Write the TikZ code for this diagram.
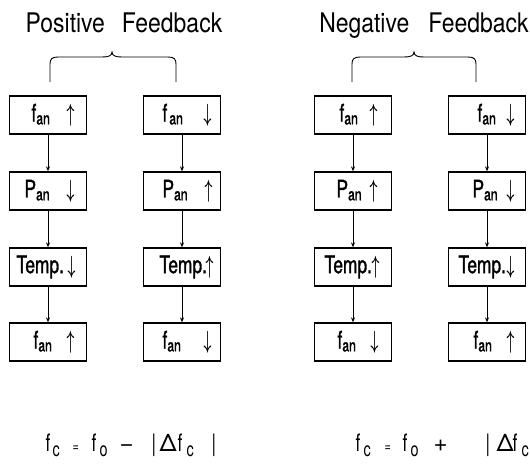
\documentclass[tikz,border=0pt]{standalone}
\usepackage{fontspec}
\usepackage{graphicx}
\setmainfont{TeX Gyre Heros}
\newfontfamily\boxfont[FakeStretch=0.72,FakeBold=1.2]{TeX Gyre Heros}
\newfontfamily\formfont[FakeStretch=0.72]{TeX Gyre Heros}
\newfontfamily\titlefont[FakeStretch=0.85]{TeX Gyre Heros}
\usetikzlibrary{arrows.meta}
\newcommand{\subtxt}[1]{\raisebox{-3pt}{\fontsize{17}{17}\selectfont #1}}
\newcommand{\fsub}[1]{\raisebox{-5pt}{\fontsize{20}{20}\selectfont #1}}
\newcommand{\arup}{\scalebox{0.55}[1]{\boldmath$\uparrow$}}
\newcommand{\ardown}{\scalebox{0.55}[1]{\boldmath$\downarrow$}}
% box content: #1 text offset, #2 text, #3 arrow centre offset, #4 arrow
\newcommand{\bx}[4]{\makebox[77pt][l]{\rlap{\hspace{#1pt}#2}\hspace{#3pt}\makebox[0pt]{#4}}}
% placed piece inside a formula
\newcommand{\pc}[2]{\rlap{\hspace{#1pt}#2}}
\newcommand{\fbbrace}[3]{%
  \draw[bracel] (#1,82) -- (#1,64) .. controls (#1,59) and (#1+2,57) .. (#1+8,57)
    -- (#2-10,57) .. controls (#2-4,57) and (#2,56) .. (#2,52)
    .. controls (#2,56) and (#2+4,57) .. (#2+10,57)
    -- (#3-8,57) .. controls (#3-2,57) and (#3,59) .. (#3,64) -- (#3,82);}
\tikzset{
  fb/.style={draw, line width=1.3pt, minimum width=77pt, minimum height=38pt,
    inner sep=0pt, font=\boxfont\fontsize{24}{24}\selectfont},
  link/.style={line width=0.9pt, -{Stealth[length=5pt,width=4pt]}},
  bracel/.style={line width=0.9pt},
  ttl/.style={anchor=base, inner sep=0pt, font=\titlefont\fontsize{27}{27}\selectfont},
  frm/.style={anchor=base west, inner sep=0pt, font=\formfont\fontsize{24}{24}\selectfont}
}
\begin{document}
\begin{tikzpicture}[x=1pt,y=-1pt]
\clip (0,0) rectangle (530,466);
\fill[white] (0,0) rectangle (530,466);
% titles
\node[ttl] (t1) at (124,32) {Positive\hspace{17pt}Feedback};
\node[ttl] (t2) at (424,32) {Negative\hspace{19pt}Feedback};
% braces
\fbbrace{50}{112}{176}
\fbbrace{352}{414}{476}
% column 1
\node[fb] (a1) at (48,115) {\bx{22}{f\subtxt{an}}{61}{\arup}};
\node[fb] (a2) at (48,191) {\bx{15}{P\subtxt{an}}{61}{\ardown}};
\node[fb] (a3) at (48,267) {\bx{7}{Temp.}{62}{\ardown}};
\node[fb] (a4) at (48,342) {\bx{24}{f\subtxt{an}}{61}{\arup}};
% column 2
\node[fb] (b1) at (182,115) {\bx{19}{f\hspace{2pt}\subtxt{an}}{64}{\ardown}};
\node[fb] (b2) at (182,191) {\bx{19}{P\subtxt{an}}{65}{\arup}};
\node[fb] (b3) at (182,267) {\bx{16}{Temp.}{66}{\arup}};
\node[fb] (b4) at (182,342) {\bx{19}{f\subtxt{an}}{64}{\ardown}};
% column 3
\node[fb] (c1) at (353,115) {\bx{25}{f\subtxt{an}}{59}{\arup}};
\node[fb] (c2) at (353,191) {\bx{22}{P\subtxt{an}}{59}{\arup}};
\node[fb] (c3) at (353,267) {\bx{10}{Temp.}{61}{\arup}};
\node[fb] (c4) at (353,342) {\bx{23}{f\subtxt{an}}{60}{\ardown}};
% column 4
\node[fb] (d1) at (487,115) {\bx{29}{f\subtxt{an}}{62}{\ardown}};
\node[fb] (d2) at (487,191) {\bx{24}{P\subtxt{an}}{62}{\ardown}};
\node[fb] (d3) at (487,267) {\bx{10}{Temp.}{62}{\ardown}};
\node[fb] (d4) at (487,342) {\bx{25}{f\subtxt{an}}{62}{\arup}};
% connectors
\foreach \c in {a,b,c,d}{
  \draw[link] (\c1) -- (\c2);
  \draw[link] (\c2) -- (\c3);
  \draw[link] (\c3) -- (\c4);
}
% formulas
\node[frm] (f1) at (45,451) {\pc{0}{f}\pc{7}{\fsub{c}}\pc{27}{\fontsize{15}{15}\selectfont=}\pc{46}{f}\pc{54}{\fsub{o}}\pc{74}{\rmfamily −}\pc{106}{|}\pc{114}{\rmfamily Δ}\pc{132}{f}\pc{141}{\fsub{c}}\pc{166}{|}\hspace{170pt}};
\node[frm] (f2) at (355,451) {\pc{0}{f}\pc{8}{\fsub{c}}\pc{29}{\fontsize{15}{15}\selectfont=}\pc{47}{f}\pc{55}{\fsub{o}}\pc{78}{\rmfamily +}\pc{130}{|}\pc{141}{\rmfamily Δ}\pc{157}{f}\pc{166}{\fsub{c}}\pc{195}{|}\hspace{199pt}};
\end{tikzpicture}
\end{document}
